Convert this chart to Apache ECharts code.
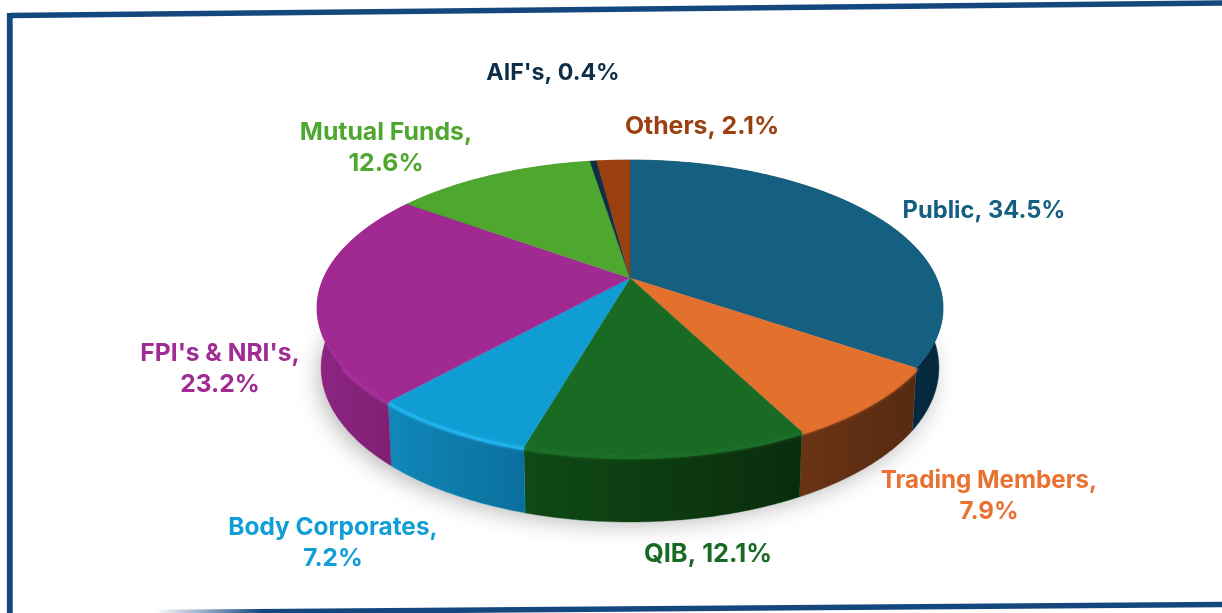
<!DOCTYPE html>
<html>
<head>
<meta charset="utf-8">
<style>html,body{margin:0;padding:0;background:#fff}#c{width:1222px;height:613px}</style>
<script src="https://cdn.jsdelivr.net/npm/echarts@6/dist/echarts.min.js"></script>
</head>
<body>
<div id="c"></div>
<script>
// --- data ---
const categories = ['Public', 'Trading Members', 'QIB', 'Body Corporates', "FPI's & NRI's", 'Mutual Funds', "AIF's", 'Others'];
const shares = [34.5, 7.9, 12.1, 7.2, 23.2, 12.6, 0.4, 2.1];

// --- styles ---
const topColors = ['#155f80', '#e4702e', '#196b24', '#0f9dd4', '#a02a92', '#4ea72e', '#0e2f49', '#9a3f10'];
const labelColors = ['#156082', '#e97132', '#196b24', '#0f9ed5', '#a02b93', '#4ea72e', '#0e2f49', '#9a3f10'];
const sideLeft = ['#0a3a55', '#6a3314', '#0f4a15', '#0f88b8', '#8c2582', '#3c8024', '#0a2030', '#6e2d0b'];
const sideRight = ['#05283d', '#562a12', '#0a2c0c', '#0b6f9e', '#7c1f70', '#3c8024', '#0a2030', '#6e2d0b'];
const rimColors = ['#155f80', '#e4702e', '#1a6e26', '#20b2ec', '#a62e98', '#4ea72e', '#0e2f49', '#9a3f10'];
const labelSizes = [23.7, 24.2, 25.4, 24.4, 24.6, 24.8, 23.2, 24.8];

// --- layout of the tilted disc and its labels ---
const view = {cx: 630, cy: 278, a: 306.5, b: 141.9, p: 0.2027};
const labelCenters = [[984, 211], [989, 496], [708, 554], [333, 543], [220, 369], [386, 148], [553, 73], [702, 127]];
const twoLines = [false, true, false, true, true, true, false, false];

const total = shares.reduce((s, v) => s + v, 0);
const startShare = i => shares.slice(0, i).reduce((s, v) => s + v, 0);

function project(theta) {
  const w = 1 + view.p * Math.cos(theta);
  return [view.cx + view.a * Math.sin(theta) / w, view.cy - view.b * Math.cos(theta) / w];
}
function lower(theta) {
  const pt = project(theta);
  return [view.cx + (pt[0] - view.cx) * 0.987, pt[1] + 58 - 8 * Math.cos(theta)];
}
function arc(i, fn) {
  const a0 = startShare(i) / total * Math.PI * 2;
  const a1 = (startShare(i) + shares[i]) / total * Math.PI * 2;
  const n = Math.max(2, Math.ceil((a1 - a0) / 0.01));
  const pts = [];
  for (let k = 0; k <= n; k++) pts.push(fn(a0 + (a1 - a0) * k / n));
  return pts;
}

function renderSide(params, api) {
  const i = api.value(0);
  const upper = arc(i, project), low = arc(i, lower);
  const xs = upper.map(p => p[0]);
  return {
    type: 'polygon',
    shape: {points: upper.concat(low.reverse())},
    style: {
      fill: {type: 'linear', x: Math.min(...xs), y: 0, x2: Math.max(...xs), y2: 0, global: true,
        colorStops: [{offset: 0, color: sideLeft[i]}, {offset: 1, color: sideRight[i]}]},
      stroke: sideLeft[i], lineWidth: 0.4
    }
  };
}

function renderTop(params, api) {
  const i = api.value(0);
  const pts = arc(i, project);
  const children = [];
  // soft rim where the top face rolls over into the side
  const rim = [];
  const a0 = startShare(i) / total * Math.PI * 2;
  pts.forEach((p, k) => {
    const th = a0 + (shares[i] / total * Math.PI * 2) * k / (pts.length - 1);
    if (Math.cos(th) < -0.55) rim.push([p[0], p[1] + 1.5]);
  });
  children.push({
    type: 'polygon',
    shape: {points: [[view.cx, view.cy]].concat(pts)},
    style: {fill: topColors[i], stroke: topColors[i], lineWidth: 0.4}
  });
  if (rim.length > 1) {
    children.push({
      type: 'polyline',
      shape: {points: rim},
      style: {fill: 'none', stroke: rimColors[i], lineWidth: 3, shadowBlur: 3, shadowColor: rimColors[i]}
    });
  }
  return {type: 'group', children};
}

function renderLabel(params, api) {
  const i = api.value(0);
  const head = categories[i] + ',';
  const pct = shares[i].toFixed(1) + '%';
  return {
    type: 'text',
    style: {
      x: labelCenters[i][0], y: labelCenters[i][1],
      text: twoLines[i] ? head + '\n' + pct : head + ' ' + pct,
      fill: labelColors[i],
      font: '700 ' + labelSizes[i] + 'px Inter, "Noto Sans", sans-serif',
      lineHeight: 31,
      align: 'center', verticalAlign: 'middle'
    }
  };
}

const rows = categories.map((name, i) => ({name, value: [i, shares[i]]}));
const frameBlue = '#15477f';

const chart = echarts.init(document.getElementById('c'), null, {renderer: 'canvas'});
chart.setOption({
  backgroundColor: '#ffffff',
  animation: false,
  tooltip: {show: false},
  graphic: [
    {type: 'ellipse', z: -1, silent: true,
     shape: {cx: 628, cy: 372, rx: 306, ry: 146},
     style: {fill: '#ffffff', shadowBlur: 24, shadowColor: 'rgba(0,0,0,0.3)', shadowOffsetX: -2, shadowOffsetY: 5}},
    {type: 'line', silent: true, shape: {x1: 10, y1: 15.5, x2: 1222, y2: 3},
     style: {stroke: frameBlue, lineWidth: 5.5}},
    {type: 'line', silent: true, shape: {x1: 9.8, y1: 13, x2: 9.8, y2: 613},
     style: {stroke: frameBlue, lineWidth: 5.8}},
    {type: 'line', silent: true, shape: {x1: 155, y1: 612.5, x2: 1222, y2: 604.5},
     style: {lineWidth: 5.5, stroke: {type: 'linear', x: 155, y: 0, x2: 1222, y2: 0, global: true,
       colorStops: [{offset: 0, color: 'rgba(21,71,127,0)'}, {offset: 0.1, color: frameBlue}, {offset: 1, color: frameBlue}]}}}
  ],
  series: [
    {type: 'custom', name: 'sides', coordinateSystem: 'none', silent: true, z: 2, data: rows, renderItem: renderSide},
    {type: 'custom', name: 'tops', coordinateSystem: 'none', silent: true, z: 3, data: rows, renderItem: renderTop},
    {type: 'custom', name: 'labels', coordinateSystem: 'none', silent: true, z: 4, data: rows, renderItem: renderLabel}
  ]
});
</script>
</body>
</html>
